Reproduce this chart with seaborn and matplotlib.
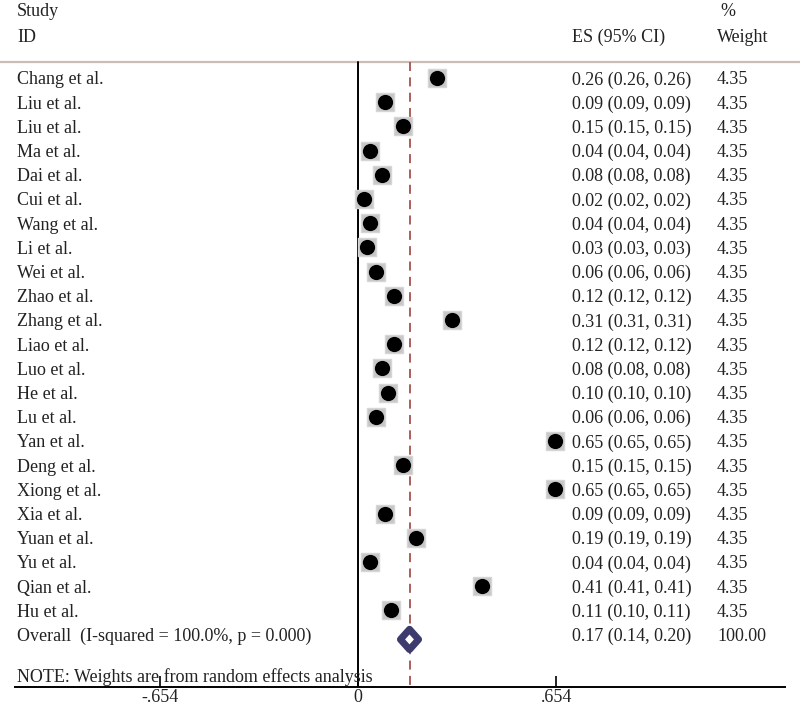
import matplotlib
matplotlib.use("Agg")
import matplotlib.pyplot as plt
import seaborn as sns
import pandas as pd

studies = ["Chang et al.", "Liu et al.", "Liu et al.", "Ma et al.", "Dai et al.", "Cui et al.",
           "Wang et al.", "Li et al.", "Wei et al.", "Zhao et al.", "Zhang et al.", "Liao et al.",
           "Luo et al.", "He et al.", "Lu et al.", "Yan et al.", "Deng et al.", "Xiong et al.",
           "Xia et al.", "Yuan et al.", "Yu et al.", "Qian et al.", "Hu et al."]
es = [0.26, 0.09, 0.15, 0.04, 0.08, 0.02, 0.04, 0.03, 0.06, 0.12, 0.31, 0.12, 0.08, 0.10,
      0.06, 0.65, 0.15, 0.65, 0.09, 0.19, 0.04, 0.41, 0.11]
lo = [0.26, 0.09, 0.15, 0.04, 0.08, 0.02, 0.04, 0.03, 0.06, 0.12, 0.31, 0.12, 0.08, 0.10,
      0.06, 0.65, 0.15, 0.65, 0.09, 0.19, 0.04, 0.41, 0.10]
hi = [0.26, 0.09, 0.15, 0.04, 0.08, 0.02, 0.04, 0.03, 0.06, 0.12, 0.31, 0.12, 0.08, 0.10,
      0.06, 0.65, 0.15, 0.65, 0.09, 0.19, 0.04, 0.41, 0.11]
weights = ["4.35"] * 23
overall_label = "Overall  (I-squared = 100.0%, p = 0.000)"
overall_es, overall_lo, overall_hi = 0.17, 0.14, 0.20
overall_weight = "100.00"
tick_vals = [-0.654, 0, 0.654]
tick_labels = ["-.654", "0", ".654"]

sns.set_theme(style="white")
plt.rcParams["font.family"] = ["Liberation Serif", "DejaVu Serif"]
FS = 13.0
TXT = "#222222"

fig = plt.figure(figsize=(8.0, 7.09), dpi=100)
H = 709.0
axis_px = 687.0
ax = fig.add_axes([0, (H - axis_px) / H, 1, axis_px / H])
ax.set_facecolor("white")

x0_px, scale = 358.0, 303.0
ax.set_xlim(-x0_px / scale, (800 - x0_px) / scale)
row0, step = 78.0, 24.2
ax.set_ylim((axis_px - row0) / step, -row0 / step)

def px2x(p):
    return (p - x0_px) / scale

def px2row(p):
    return (p - row0) / step

df = pd.DataFrame({"row": range(len(studies)), "es": es})

top_row = px2row(62)
bottom_row = (axis_px - row0) / step
dy = 0.08  # small text baseline adjustment

# top header line
ax.axhline(top_row, color="#c9bdb6", lw=1.6, zorder=1)
# null line
ax.plot([0, 0], [top_row, bottom_row], color="black", lw=1.4, zorder=2)
# overall dashed line
ax.plot([overall_es, overall_es], [top_row, bottom_row], color="#a5524a", lw=1.3,
        dashes=(5, 3.5), zorder=2)

# weight boxes and point estimates
sns.scatterplot(data=df, x="es", y="row", marker="s", s=185, color="#c6c6c6",
                edgecolor="#d6d6d6", linewidth=1, ax=ax, zorder=3, legend=False)
sns.scatterplot(data=df, x="es", y="row", marker="o", s=120, color="black",
                edgecolor="black", linewidth=0, ax=ax, zorder=4, legend=False)

# overall diamond
ov_row = len(studies) + 0.2
hh = 0.42
ax.fill([overall_lo, overall_es, overall_hi, overall_es],
        [ov_row, ov_row - hh, ov_row, ov_row + hh],
        facecolor="white", edgecolor="#3d3b6e", lw=5.0, joinstyle="round", zorder=5)

# text columns
name_x = px2x(17)
es_x = px2x(572)
w_x = px2x(717)
for i, (s, e, l, h, w) in enumerate(zip(studies, es, lo, hi, weights)):
    ax.text(name_x, i + dy, s, fontsize=FS, va="center", ha="left", color=TXT)
    ax.text(es_x, i + dy, f"{e:.2f} ({l:.2f}, {h:.2f})", fontsize=FS, va="center", ha="left", color=TXT)
    ax.text(w_x, i + dy, w, fontsize=FS, va="center", ha="left", color=TXT)
ov_txt = len(studies) + dy
ax.text(name_x, ov_txt, overall_label, fontsize=FS, va="center", ha="left", color=TXT)
ax.text(es_x, ov_txt, f"{overall_es:.2f} ({overall_lo:.2f}, {overall_hi:.2f})",
        fontsize=FS, va="center", ha="left", color=TXT)
ax.text(w_x, ov_txt, overall_weight, fontsize=FS, va="center", ha="left", color=TXT)
ax.text(name_x, px2row(677), "NOTE: Weights are from random effects analysis",
        fontsize=FS, va="center", ha="left", color=TXT)

# headers
ax.text(name_x, px2row(12), "Study", fontsize=FS, va="center", ha="left", color=TXT)
ax.text(name_x, px2row(37), "ID", fontsize=FS, va="center", ha="left", color=TXT)
ax.text(es_x, px2row(37), "ES (95% CI)", fontsize=FS, va="center", ha="left", color=TXT)
ax.text(px2x(720), px2row(12), "%", fontsize=FS, va="center", ha="left", color=TXT)
ax.text(w_x, px2row(37), "Weight", fontsize=FS, va="center", ha="left", color=TXT)

# axis
for sp in ["top", "left", "right"]:
    ax.spines[sp].set_visible(False)
ax.spines["bottom"].set_color("black")
ax.spines["bottom"].set_linewidth(1.4)
ax.spines["bottom"].set_bounds(px2x(15), px2x(785))
ax.set_xticks(tick_vals)
ax.set_xticklabels(tick_labels, fontsize=FS, color=TXT)
ax.tick_params(axis="x", direction="in", length=8, width=1.2, color="black", pad=1.5,
               bottom=True)
ax.set_yticks([])
ax.set_xlabel("")
ax.set_ylabel("")

fig.savefig("out.png", dpi=100, facecolor="white")
